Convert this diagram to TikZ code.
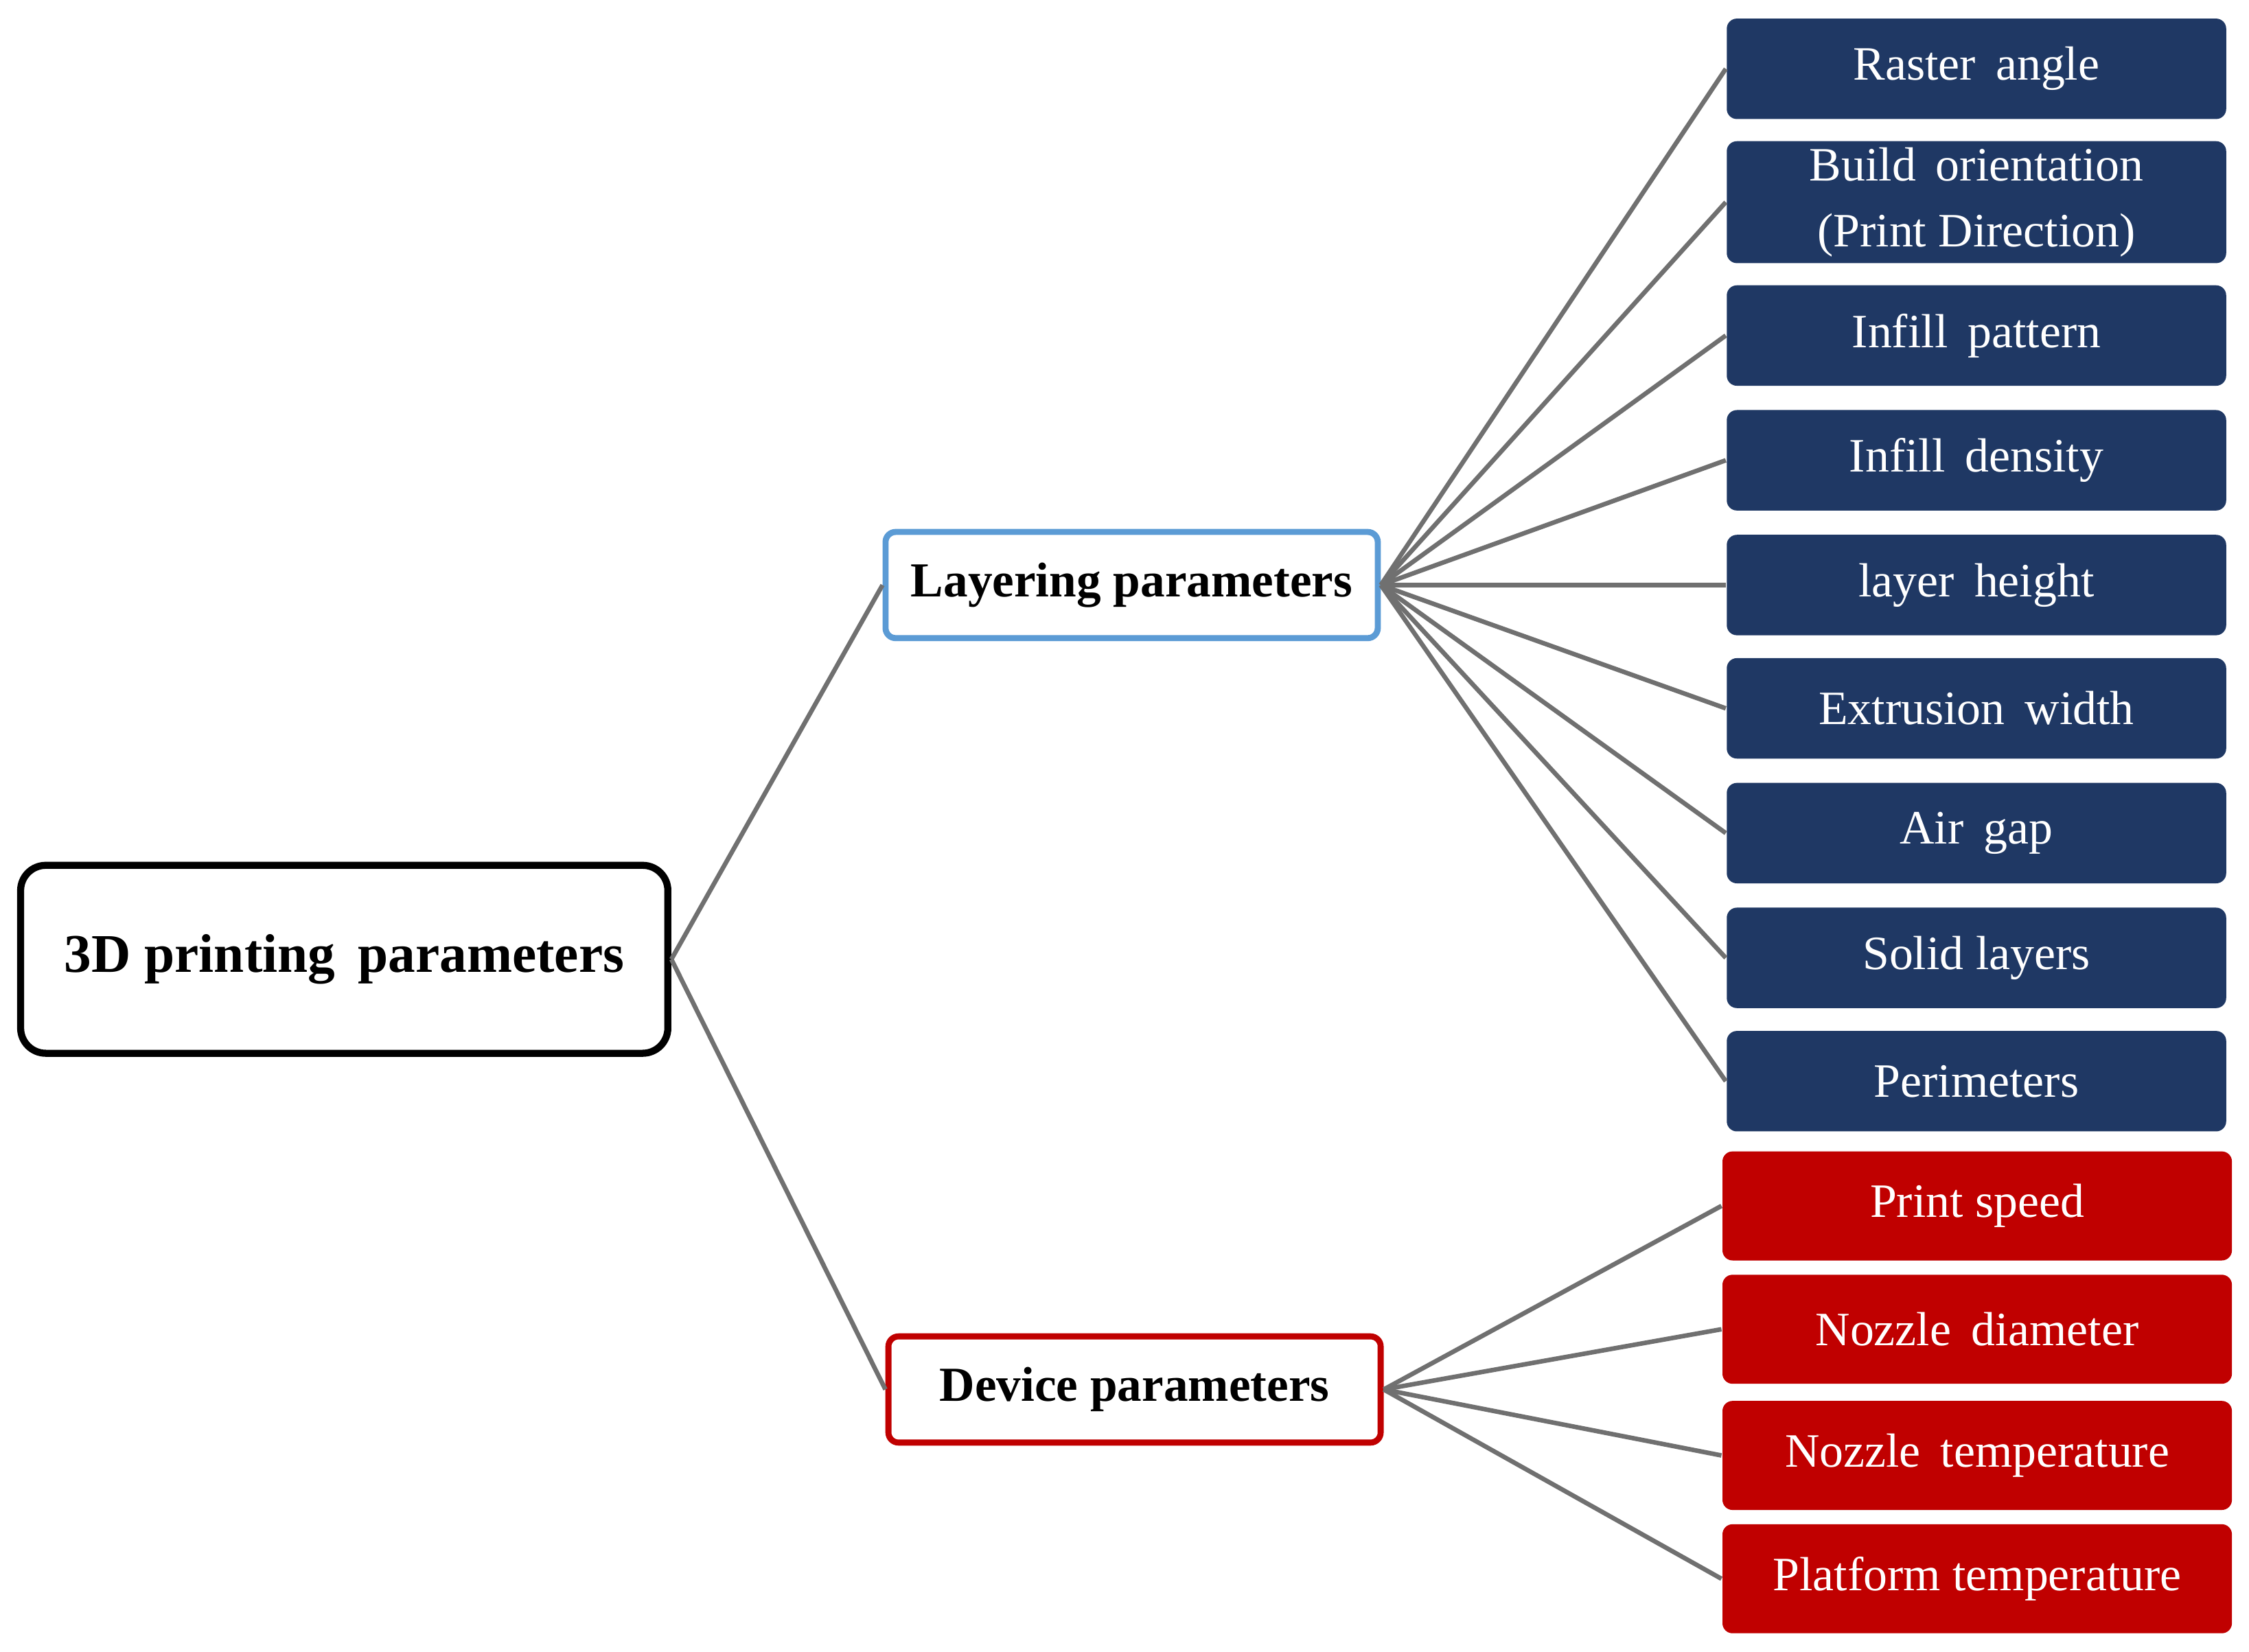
\documentclass[tikz,border=0pt]{standalone}
\usepackage{fontspec}
\setmainfont{Liberation Serif}
\definecolor{navy}{HTML}{1F3864}
\definecolor{dred}{HTML}{C00000}
\definecolor{lblue}{HTML}{5B9BD5}
\definecolor{lgray}{HTML}{707070}
\begin{document}
\begin{tikzpicture}[x=0.01cm,y=-0.01cm,
 leaf/.style={rounded corners=2pt,minimum width=348\pgflinewidth,text=white,font=\fontsize{9.5}{11}\selectfont,align=center,inner sep=0pt},
 blu/.style={leaf,fill=navy,minimum width=3.48cm,minimum height=0.70cm},
 rd/.style={leaf,fill=dred,minimum width=3.55cm,minimum height=0.76cm},
 mid/.style={draw,line width=1.2pt,rounded corners=2pt,fill=white,font=\bfseries\fontsize{9.7}{11}\selectfont,minimum width=3.43cm,minimum height=0.74cm,inner sep=0pt},
 con/.style={draw=lgray,line width=0.9pt}]
\useasboundingbox (0,0) rectangle (1568,1152);
\node[draw,line width=1.4pt,rounded corners=5pt,minimum width=4.51cm,minimum height=1.31cm,font=\bfseries\fontsize{10.8}{12}\selectfont,inner sep=0pt] (root) at (240,669) {3D printing\, parameters};
\node[mid,draw=lblue] (lay) at (789,408) {Layering parameters};
\node[mid,draw=dred] (dev) at (791,969) {Device parameters};
\foreach \n/\y/\t in {a/48/Raster\, angle, c/234/Infill\, pattern, d/321/Infill\, density, e/408/layer\, height, f/494/Extrusion\, width, g/581/Air\, gap, h/668/Solid layers, i/754/Perimeters}
  \node[blu] (\n) at (1378,\y) {\t};
\node[blu,minimum height=0.85cm] (b) at (1378,141) {Build\, orientation\\[2pt](Print Direction)};
\foreach \n/\y/\t in {p/841/Print speed, q/927/Nozzle\, diameter, r/1015/Nozzle\, temperature, s/1101/Platform temperature}
  \node[rd] (\n) at (1378.5,\y) {\t};
\draw[con] (root.east) -- (lay.west);
\draw[con] (root.east) -- (dev.west);
\foreach \n in {a,b,c,d,e,f,g,h,i} \draw[con] (lay.east) -- (\n.west);
\foreach \n in {p,q,r,s} \draw[con] (dev.east) -- (\n.west);
\end{tikzpicture}
\end{document}
